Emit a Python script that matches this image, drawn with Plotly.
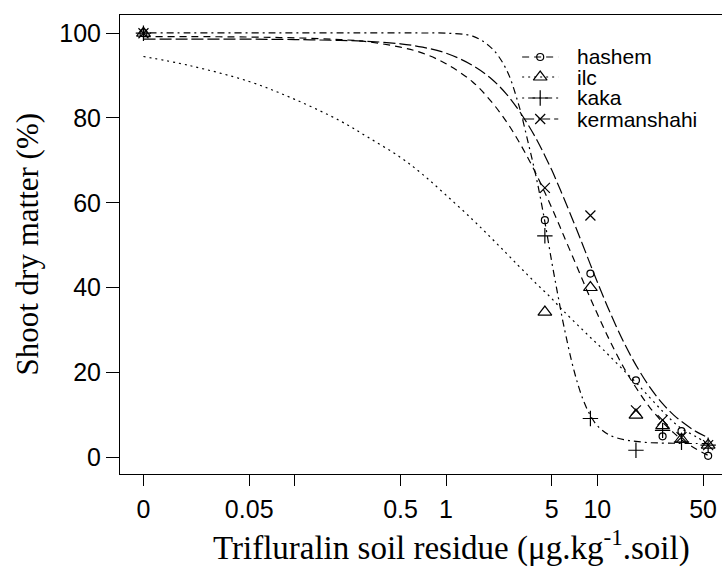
import plotly.graph_objects as go

# ---- data -------------------------------------------------------------
DOSES = [0, 4.5, 9, 18, 27, 36, 54]
HASHEM = [100.0, 55.9, 43.3, 18.1, 4.9, 6.1, 0.3]
ILC = [100.0, 34.2, 40.0, 9.9, 7.4, 4.2, 2.8]
KAKA = [100.0, 52.2, 9.1, 1.6, 6.3, 3.5, 2.8]
KERMANSHAHI = [100.0, 63.5, 57.0, 11.0, 8.7, 4.7, 2.8]

# fitted dose-response curves
CURVE_DOSE = [0, 0.02, 0.05, 0.1, 0.2, 0.3, 0.5, 0.7, 1, 1.5, 2, 2.5, 3, 3.5, 4,
              4.5, 5, 5.5, 6, 7, 8, 9, 10, 12, 15, 18, 22, 27, 32, 36, 45, 54]
CURVE_HASHEM = [99.2, 99.2, 99.1, 98.9, 98.5, 98.0, 96.7, 95.3, 92.8, 88.5, 83.8,
                79.2, 74.7, 70.4, 66.3, 62.4, 58.8, 55.4, 52.2, 46.6, 41.7, 37.4,
                33.8, 27.7, 21.0, 16.4, 11.9, 8.2, 5.7, 4.1, 1.9, 0.4]
CURVE_ILC = [94.5, 92.4, 88.6, 84.4, 79.3, 75.6, 70.7, 66.7, 61.8, 56.0, 51.6,
             48.1, 45.2, 42.8, 40.7, 39.0, 37.4, 35.8, 34.4, 32.0, 30.0, 28.2,
             26.7, 23.9, 20.4, 17.6, 14.2, 10.8, 8.2, 6.7, 4.8, 2.9]
CURVE_KAKA = [100.1, 100.1, 100.1, 100.1, 100.1, 100.1, 100.1, 100.05, 100.0,
              99.3, 96.5, 91.5, 83.5, 74.0, 65.0, 55.5, 46.0, 38.0, 31.0, 20.5,
              13.8, 9.8, 7.4, 5.2, 4.1, 3.7, 3.4, 3.3, 3.25, 3.2, 3.2, 3.2]
CURVE_KERMANSHAHI = [98.6, 98.6, 98.6, 98.5, 98.3, 98.1, 97.5, 96.7, 95.3, 92.4,
                     89.2, 85.7, 82.0, 78.3, 74.7, 71.1, 67.7, 64.3, 61.1, 55.3,
                     50.1, 45.4, 41.3, 34.5, 27.0, 21.7, 16.7, 12.6, 9.9, 8.4,
                     6.0, 4.6]

X_TICK_VALUES = [0, 0.05, 0.5, 1, 5, 10, 50]
X_TICK_TEXT = ["0", "0.05", "0.5", "1", "5", "10", "50"]
X_UNLABELLED_TICKS = [0.1]
Y_TICK_VALUES = [0, 20, 40, 60, 80, 100]

ZERO_POSITION = 0.01  # where dose 0 is drawn on the log axis


def pos(values):
    return [v if v > 0 else ZERO_POSITION for v in values]


SERIES = [
    ("hashem", HASHEM, CURVE_HASHEM, "circle-open", 7, "7px,5px"),
    ("ilc", ILC, CURVE_ILC, "triangle-up-open", 12, "2px,4px"),
    ("kaka", KAKA, CURVE_KAKA, "cross-thin-open", 11, "2px,4px,7px,4px"),
    ("kermanshahi", KERMANSHAHI, CURVE_KERMANSHAHI, "x-thin-open", 10, "12px,4px"),
]

# legend layout (fractions of the plotting area)
LEG_LINE_X = [0.668, 0.728]
LEG_MARK_X = 0.698
LEG_TEXT_X = 0.757
LEG_ROWS_Y = [0.9085, 0.8649, 0.8192, 0.7734]

fig = go.Figure()
annotations = []
for (name, pts, curve, sym, size, dash), row in zip(SERIES, LEG_ROWS_Y):
    mk = dict(symbol=sym, size=size, color="black",
              line=dict(color="black", width=1.2))
    ln = dict(color="black", width=1.2, dash=dash)
    fig.add_trace(go.Scatter(
        x=pos(CURVE_DOSE), y=curve, mode="lines", line_shape="spline",
        line=ln, showlegend=False, hoverinfo="skip", name=name))
    fig.add_trace(go.Scatter(
        x=pos(DOSES), y=pts, mode="markers", marker=mk,
        showlegend=False, name=name))
    # legend key
    fig.add_trace(go.Scatter(
        x=LEG_LINE_X, y=[row, row], mode="lines", line=ln,
        xaxis="x2", yaxis="y2", showlegend=False, hoverinfo="skip"))
    fig.add_trace(go.Scatter(
        x=[LEG_MARK_X], y=[row], mode="markers", marker=mk,
        xaxis="x2", yaxis="y2", showlegend=False, hoverinfo="skip"))
    annotations.append(dict(
        text=name, xref="paper", yref="paper", x=LEG_TEXT_X, y=row,
        xanchor="left", yanchor="middle", showarrow=False, borderpad=0,
        font=dict(family="Liberation Sans, Arial", size=21)))

annotations += [
    dict(text="Trifluralin soil residue (μg.kg<sup>-1</sup>.soil)",
         xref="paper", yref="paper", x=0.5507, y=0, xanchor="center",
         yanchor="middle", yshift=-71, showarrow=False,
         font=dict(family="Liberation Serif, Times New Roman, serif", size=33)),
    dict(text="Shoot dry matter (%)", textangle=-90,
         xref="paper", yref="paper", x=0, y=0.5, xanchor="center",
         yanchor="middle", xshift=-93, showarrow=False,
         font=dict(family="Liberation Serif, Times New Roman, serif", size=31)),
]

fig.update_layout(
    width=722, height=568,
    margin=dict(l=120, r=0, t=15, b=94, autoexpand=False),
    paper_bgcolor="white", plot_bgcolor="white",
    font=dict(family="Liberation Sans, Arial, sans-serif", color="black"),
    showlegend=False,
    xaxis=dict(type="log", range=[-2.155, 1.824], automargin=False,
               tickvals=pos(X_TICK_VALUES), ticktext=X_TICK_TEXT,
               ticks="outside", ticklen=11, tickwidth=1, tickcolor="black",
               minor=dict(tickvals=X_UNLABELLED_TICKS, ticks="outside",
                          ticklen=11, tickwidth=1, tickcolor="black",
                          showgrid=False),
               showline=True, linecolor="black", linewidth=1, mirror=True,
               showgrid=False, zeroline=False, ticklabelstandoff=2,
               tickfont=dict(size=25, family="Liberation Sans, Arial")),
    yaxis=dict(range=[-4.0, 104.3], tickvals=Y_TICK_VALUES, automargin=False,
               ticks="outside", ticklen=13, tickwidth=1, tickcolor="black",
               showline=True, linecolor="black", linewidth=1,
               showgrid=False, zeroline=False, ticklabelstandoff=0,
               tickfont=dict(size=25, family="Liberation Sans, Arial")),
    xaxis2=dict(overlaying="x", anchor="y2", range=[0, 1], visible=False,
                automargin=False),
    yaxis2=dict(overlaying="y", anchor="x2", range=[0, 1], visible=False,
                automargin=False),
    annotations=annotations,
)

fig.write_html(
    "out.html",
    config={"displayModeBar": False},
    post_script="document.body.style.margin='0px';"
                "document.documentElement.style.overflow='hidden';")
